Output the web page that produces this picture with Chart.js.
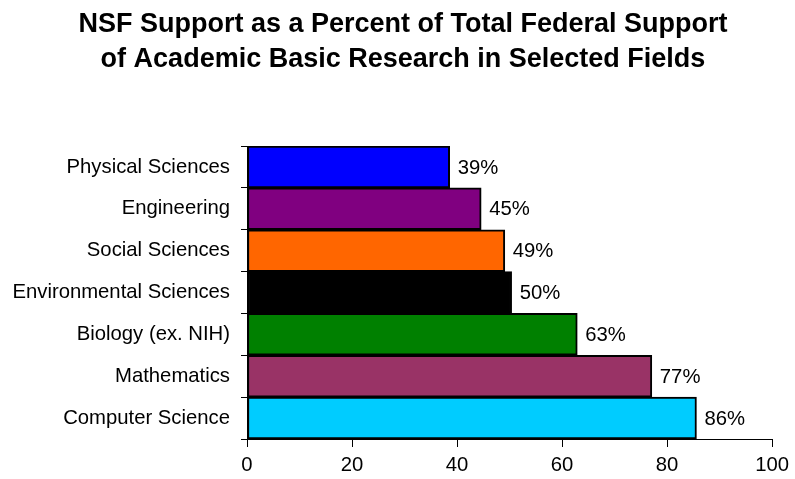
<!DOCTYPE html>
<html>
<head>
<meta charset="utf-8">
<script src="https://cdn.jsdelivr.net/npm/chart.js@4"></script>
<style>
  html, body { margin: 0; padding: 0; background: #fff; }
  #wrap { width: 795px; height: 479px; }
</style>
</head>
<body>
<div id="wrap"><canvas id="nsfChart" width="795" height="479"></canvas></div>
<script>
// Datos del gráfico
const fields = ['Physical Sciences', 'Engineering', 'Social Sciences', 'Environmental Sciences',
                'Biology (ex. NIH)', 'Mathematics', 'Computer Science'];
const nsfShare = [38.6, 44.6, 49.1, 50.4, 62.9, 77.1, 85.6];
const barColors = ['#0000FF', '#800080', '#FF6600', '#000000', '#008000', '#993366', '#00CCFF'];
const titleLines = ['NSF Support as a Percent of Total Federal Support',
                    'of Academic Basic Research in Selected Fields'];

const FONT = "'Liberation Sans', Arial, sans-serif";

// Título en dos líneas, centrado un poco a la derecha como en el original
const twoLineTitle = {
    id: 'twoLineTitle',
    afterDraw(chart) {
        const ctx = chart.ctx;
        ctx.save();
        ctx.font = 'bold 27px ' + FONT;
        ctx.fillStyle = '#000';
        ctx.textAlign = 'center';
        ctx.textBaseline = 'middle';
        titleLines.forEach((line, i) => {
            ctx.fillText(line, 403, 25 + i * 35);
        });
        ctx.restore();
    }
};

// Etiquetas de porcentaje al final de cada barra
const pctLabels = {
    id: 'pctLabels',
    afterDatasetsDraw(chart) {
        const ctx = chart.ctx;
        const meta = chart.getDatasetMeta(0);
        ctx.save();
        ctx.font = '20.3px ' + FONT;
        ctx.fillStyle = '#000';
        ctx.textAlign = 'left';
        ctx.textBaseline = 'middle';
        meta.data.forEach((bar, i) => {
            ctx.fillText(Math.round(nsfShare[i]) + '%', bar.x + 8, bar.y + 1);
        });
        ctx.restore();
    }
};

const ctx = document.getElementById('nsfChart').getContext('2d');
const chart = new Chart(ctx, {
    type: 'bar',
    data: {
        labels: fields,
        datasets: [{
            data: nsfShare,
            backgroundColor: barColors,
            borderColor: '#000',
            borderWidth: 2,
            borderSkipped: false,
            barPercentage: 1,
            categoryPercentage: 1
        }]
    },
    options: {
        indexAxis: 'y',
        responsive: false,
        animation: false,
        layout: { padding: { left: 0, right: 21, top: 146, bottom: 0 } },
        plugins: {
            legend: { display: false },
            tooltip: { enabled: false },
            title: { display: false }
        },
        scales: {
            x: {
                min: 0,
                max: 100,
                ticks: { stepSize: 20, color: '#000', font: { family: FONT, size: 20.3 }, padding: 6 },
                grid: { drawOnChartArea: false, drawTicks: true, tickLength: 8, color: '#000' },
                border: { display: true, color: '#000', width: 1 },
                afterFit: (s) => { s.height = 40; }
            },
            y: {
                ticks: { color: '#000', font: { family: FONT, size: 20.3 }, padding: 11 },
                grid: { drawOnChartArea: false, drawTicks: true, tickLength: 6, color: '#000', offset: true },
                border: { display: true, color: '#000', width: 1 },
                afterFit: (s) => { s.width = 247; }
            }
        }
    },
    plugins: [pctLabels, twoLineTitle]
});
</script>
</body>
</html>
